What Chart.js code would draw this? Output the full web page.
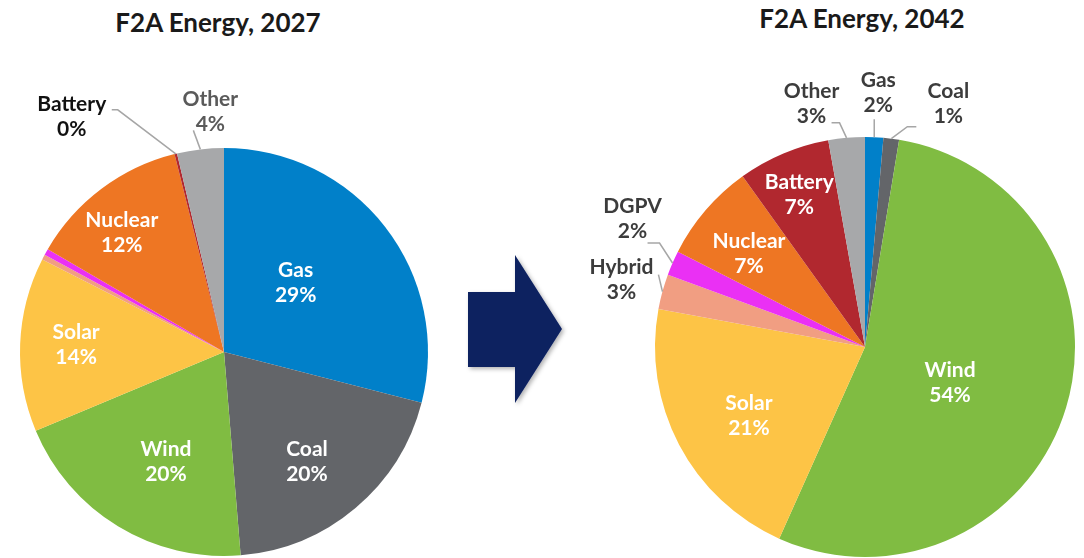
<!DOCTYPE html>
<html>
<head>
<meta charset="utf-8">
<script src="https://cdn.jsdelivr.net/npm/chart.js@4.4.1/dist/chart.umd.min.js"></script>
<style>
  html, body { margin: 0; padding: 0; background: #ffffff; }
  #stage { position: relative; width: 1084px; height: 558px; overflow: hidden; background: #fff; }
  .title { position: absolute; font-family: Lato, "Open Sans", sans-serif; font-weight: 700; font-size: 26px; line-height: 26px; color: #1a1a1a; text-align: center; white-space: nowrap; }
  canvas { position: absolute; }
  #arrow { position: absolute; left: 0; top: 0; }
</style>
</head>
<body>
<div id="stage">
  <div class="title" id="t1" style="left:18px; width:400px; top:9px;">F2A Energy, 2027</div>
  <div class="title" id="t2" style="left:662px; width:400px; top:5px;">F2A Energy, 2042</div>
  <svg id="arrow" width="1084" height="558">
    <defs>
      <filter id="sh" x="-20%" y="-20%" width="150%" height="150%">
        <feDropShadow dx="2" dy="2" stdDeviation="2" flood-color="#000" flood-opacity="0.3"/>
      </filter>
    </defs>
    <polygon points="468,292 515,292 515,255 562,329 515,403 515,367 468,367" fill="#0c2160" filter="url(#sh)"/>
  </svg>
  <canvas id="c2027" width="450" height="558" style="left:0px; top:0px;"></canvas>
  <canvas id="c2042" width="504" height="558" style="left:580px; top:0px;"></canvas>
</div>
<script>
// ---------------- data ----------------
const categories = ['Gas', 'Coal', 'Wind', 'Solar', 'Hybrid', 'DGPV', 'Nuclear', 'Battery', 'Other'];
const share2027  = [29.0, 19.7, 20.0, 13.8, 0.4, 0.5, 12.7, 0.2, 3.7];
const share2042  = [1.4, 1.2, 54.1, 21.2, 2.7, 1.9, 7.6, 7.1, 2.8];
const pctText2027 = ['29%', '20%', '20%', '14%', null, null, '12%', '0%', '4%'];
const pctText2042 = ['2%', '1%', '54%', '21%', '3%', '2%', '7%', '7%', '3%'];

// ---------------- styles ----------------
const sliceColors = {
  Gas: '#0180c9', Coal: '#636569', Wind: '#80bc42', Solar: '#fdc446',
  Hybrid: '#f19e82', DGPV: '#ea30f4', Nuclear: '#ee7623', Battery: '#b1282f', Other: '#a7a8aa'
};
// label placement: inside -> angle shift (deg) + radius fraction; outside -> offsets from slice edge point
const place2027 = {
  Gas:     { dA: -6.4, f: 0.49 },
  Coal:    { dA: 3.1,  f: 0.675 },
  Wind:    { dA: -3.5, f: 0.61 },
  Solar:   { dA: 0.5,  f: 0.726 },
  Nuclear: { dA: -3.7, f: 0.77 },
  Battery: { text: [-104, -37], line: [[-64, -44], [-58, -44]], color: '#111111' },
  Other:   { text: [10, -38], line: [[-7, -19]], color: '#5a5a5a' }
};
const place2042 = {
  Gas:     { text: [4, -44], line: [[0, -18]], color: '#3c3c3c' },
  Coal:    { text: [57, -35], line: [[25, -12], [16, -12]], color: '#3c3c3c' },
  Wind:    { dA: 6.3, f: 0.44 },
  Solar:   { dA: -3, f: 0.643 },
  Hybrid:  { text: [-41, -12], line: [[-4, -17]], color: '#3c3c3c' },
  DGPV:    { text: [-40, -44], line: [[-25, -20], [-13, -20]], color: '#3c3c3c' },
  Nuclear: { dA: -2, f: 0.708 },
  Battery: { dA: -0.5, f: 0.79 },
  Other:   { text: [-35, -34], line: [[-15, -15], [-7, -15]], color: '#3c3c3c' }
};

const sliceLabels = {
  id: 'sliceLabels',
  afterDatasetsDraw(chart, args, opts) {
    const ctx = chart.ctx;
    const meta = chart.getDatasetMeta(0);
    ctx.save();
    ctx.font = 'bold 21px Lato, "Open Sans", sans-serif';
    ctx.textAlign = 'center';
    ctx.textBaseline = 'middle';
    meta.data.forEach((arc, i) => {
      const cat = chart.data.labels[i];
      const p = opts.place[cat];
      const txt = opts.texts[i];
      if (!p || txt == null) return;
      const { x, y, startAngle, endAngle, outerRadius } =
        arc.getProps(['x', 'y', 'startAngle', 'endAngle', 'outerRadius'], true);
      const mid = (startAngle + endAngle) / 2;
      let cx, cy;
      if (p.f !== undefined) {
        const a = mid + p.dA * Math.PI / 180;
        cx = x + Math.cos(a) * outerRadius * p.f;
        cy = y + Math.sin(a) * outerRadius * p.f;
        ctx.fillStyle = '#ffffff';
      } else {
        const ex = x + Math.cos(mid) * outerRadius;
        const ey = y + Math.sin(mid) * outerRadius;
        ctx.strokeStyle = '#a6a6a6';
        ctx.lineWidth = 1.5;
        ctx.beginPath();
        ctx.moveTo(ex + p.line[0][0], ey + p.line[0][1]);
        for (let k = 1; k < p.line.length; k++) ctx.lineTo(ex + p.line[k][0], ey + p.line[k][1]);
        ctx.lineTo(ex, ey);
        ctx.stroke();
        cx = ex + p.text[0];
        cy = ey + p.text[1];
        ctx.fillStyle = p.color;
      }
      ctx.fillText(cat, cx, cy - 12.5);
      ctx.fillText(txt, cx, cy + 12.5);
    });
    ctx.restore();
  }
};

function makePie(id, values, texts, place, padding) {
  return new Chart(document.getElementById(id), {
    type: 'pie',
    data: {
      labels: categories,
      datasets: [{
        data: values,
        backgroundColor: categories.map(c => sliceColors[c]),
        borderWidth: 0
      }]
    },
    options: {
      responsive: false,
      animation: false,
      layout: { padding: padding },
      plugins: {
        legend: { display: false },
        tooltip: { enabled: false },
        sliceLabels: { texts: texts, place: place }
      }
    },
    plugins: [sliceLabels]
  });
}

function draw() {
  makePie('c2027', share2027, pctText2027, place2027, { left: 20, right: 22, top: 148, bottom: 2 });
  makePie('c2042', share2042, pctText2042, place2042, { left: 75, right: 9, top: 137, bottom: 1 });
}
const fontReady = document.fonts && document.fonts.load
  ? Promise.race([document.fonts.load('bold 21px Lato'), new Promise(r => setTimeout(r, 500))])
  : Promise.resolve();
fontReady.then(draw, draw);
</script>
</body>
</html>
